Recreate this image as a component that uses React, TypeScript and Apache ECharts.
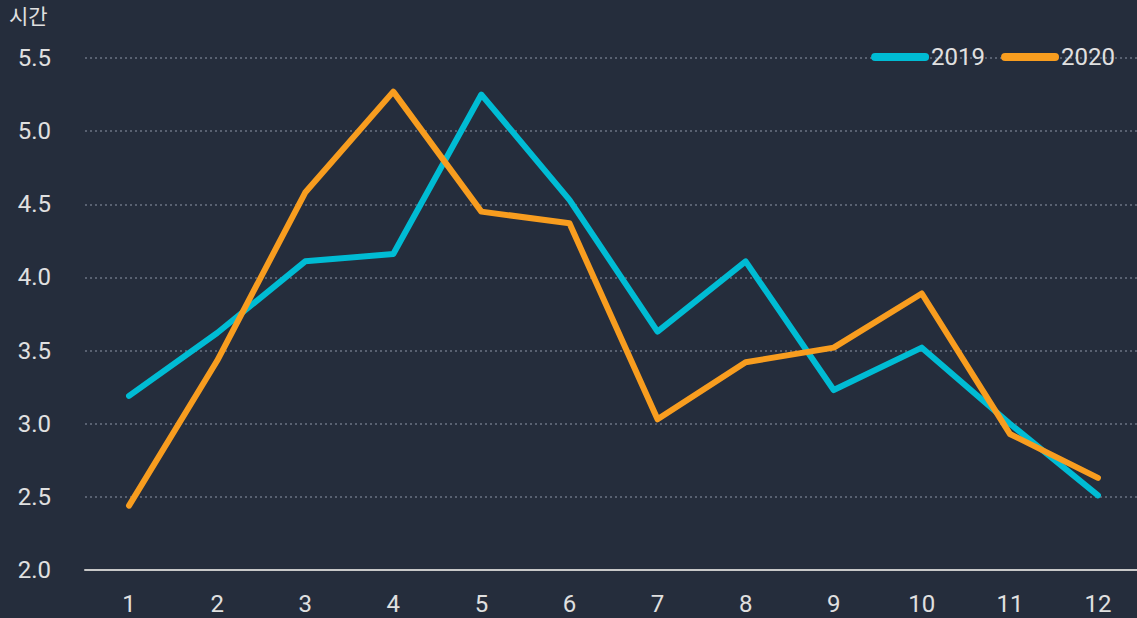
import React, { useEffect, useRef } from "react";
import * as echarts from "echarts";

const months = ["1", "2", "3", "4", "5", "6", "7", "8", "9", "10", "11", "12"];
const series2019 = [3.19, 3.62, 4.11, 4.16, 5.25, 4.53, 3.63, 4.11, 3.23, 3.52, 3.0, 2.51];
const series2020 = [2.44, 3.43, 4.58, 5.27, 4.45, 4.37, 3.03, 3.42, 3.52, 3.89, 2.93, 2.63];
const unitLabel = "시간";

export default function App() {
  const ref = useRef<HTMLDivElement>(null);
  useEffect(() => {
    if (!ref.current) return;
    const chart = echarts.init(ref.current, null, { renderer: "svg" });
    const font = "Roboto, 'Noto Sans', sans-serif";
    chart.setOption({
      animation: false,
      backgroundColor: "#252d3c",
      textStyle: { fontFamily: font },
      graphic: [
        {
          type: "text",
          left: 9,
          top: 4,
          style: {
            text: unitLabel,
            fill: "#e0e0e0",
            fontSize: 21,
            fontFamily: "'Noto Sans CJK KR', sans-serif",
          },
        },
      ],
      legend: {
        right: 22,
        top: 40,
        itemWidth: 58,
        itemHeight: 8,
        itemGap: 16,
        icon: "path://M4,0 H54 A4,4 0 0 1 54,8 H4 A4,4 0 0 1 4,0 Z",
        textStyle: { color: "#e0e0e0", fontSize: 24, fontFamily: font, padding: [0, 0, 0, -3] },
        data: ["2019", "2020"],
      },
      grid: { left: 85, right: 0, top: 58, bottom: 48 },
      xAxis: {
        type: "category",
        data: months,
        boundaryGap: true,
        axisLine: { lineStyle: { color: "#c8c8c8", width: 2 } },
        axisTick: { show: false },
        axisLabel: { color: "#e0e0e0", fontSize: 24, margin: 22, fontFamily: font },
      },
      yAxis: {
        type: "value",
        min: 2.0,
        max: 5.5,
        interval: 0.5,
        axisLine: { show: false },
        axisTick: { show: false },
        axisLabel: {
          color: "#e0e0e0",
          fontSize: 24,
          margin: 34,
          fontFamily: font,
          formatter: (v: number) => v.toFixed(1),
        },
        splitLine: { lineStyle: { color: "#6b7382", type: [2, 3], width: 1.5 } },
      },
      series: [
        {
          name: "2019",
          type: "line",
          data: series2019,
          symbol: "none",
          color: "#00bcd4",
          lineStyle: { width: 6, color: "#00bcd4", cap: "round", join: "round" },
        },
        {
          name: "2020",
          type: "line",
          data: series2020,
          symbol: "none",
          color: "#f89d1f",
          lineStyle: { width: 6, color: "#f89d1f", cap: "round", join: "round" },
        },
      ],
    });
    return () => chart.dispose();
  }, []);
  return (
    <div style={{ position: "fixed", left: 0, top: 0, width: 1137, height: 618, overflow: "hidden" }}>
      <div ref={ref} style={{ position: "absolute", left: 0, top: 0, width: 1142, height: 618 }} />
    </div>
  );
}
